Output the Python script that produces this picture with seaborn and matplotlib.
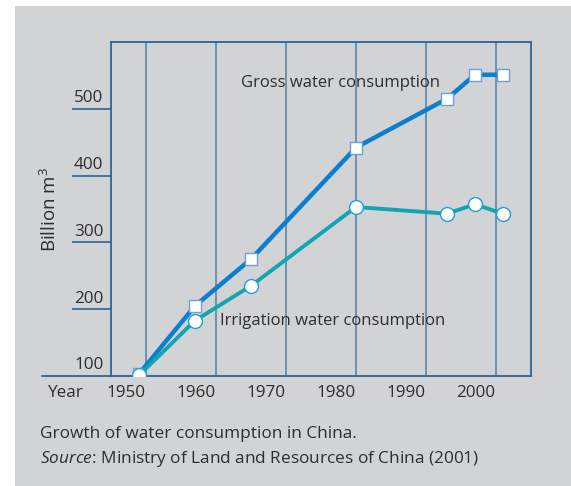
import matplotlib
matplotlib.use("Agg")
import matplotlib.pyplot as plt
import matplotlib.transforms as mtransforms
from matplotlib.patches import Rectangle
import seaborn as sns
import pandas as pd

# data
years = [1949, 1957, 1965, 1980, 1993, 1997, 2001]
gross = [103, 205, 275, 442, 515, 551, 551]
irrigation = [101, 183, 235, 353, 343, 357, 343]
y_ticks = [100, 200, 300, 400, 500]
x_ticks = [1950, 1960, 1970, 1980, 1990, 2000]

df = pd.DataFrame({"Year": years, "Gross": gross, "Irrigation": irrigation})

sns.set_theme(style="white")
plt.rcParams["font.family"] = ["Open Sans", "DejaVu Sans"]
plt.rcParams["mathtext.fontset"] = "custom"
plt.rcParams["mathtext.rm"] = "Open Sans"
plt.rcParams["mathtext.it"] = "Open Sans:italic"

bg = "#d2d3d5"
axcol = "#2b6496"
gridcol = "#5a85ad"
txt = "#2e2e2e"

fig = plt.figure(figsize=(5.71, 4.86), dpi=100)
fig.patch.set_facecolor("white")
fig.patches.append(Rectangle((15 / 571, 0), 1, 480 / 486, transform=fig.transFigure,
                             facecolor=bg, edgecolor="none", zorder=-10))

ax = fig.add_axes([111 / 571, 1 - 376 / 486, 420 / 571, 334 / 486])
ax.set_facecolor(bg)

for yr in x_ticks:
    ax.axvline(yr, color=gridcol, lw=1.2, zorder=1)

sns.lineplot(data=df, x="Year", y="Gross", ax=ax, color="#0a7fcf", lw=3.2,
             marker="s", markersize=9, markerfacecolor="white",
             markeredgecolor="#6e9fd6", markeredgewidth=1.0, zorder=3)
sns.lineplot(data=df, x="Year", y="Irrigation", ax=ax, color="#12a5b1", lw=2.8,
             marker="o", markersize=10, markerfacecolor="white",
             markeredgecolor="#1c9fd9", markeredgewidth=1.0, zorder=4)

ax.set_xlim(1945, 2005)
ax.set_ylim(100, 600)
ax.set_xlabel("")
ax.set_ylabel("")

for s in ax.spines.values():
    s.set_color(axcol)
    s.set_linewidth(1.3)

ax.set_xticks(x_ticks)
ax.set_xticklabels([])
ax.tick_params(axis="x", length=0)
ax.set_yticks(y_ticks[1:])
ax.set_yticklabels([])
ax.tick_params(axis="y", length=28, width=1.2, color=axcol, direction="out", left=True)

# bottom axis line runs out past the left edge
ax.axhline(100, xmin=-0.164, xmax=0, color=axcol, lw=1.3, clip_on=False)

# tick labels
ytrans = mtransforms.blended_transform_factory(ax.transAxes, ax.transData)
for v in y_ticks:
    ax.text(-0.018, v + 4, str(v), transform=ytrans, ha="right", va="bottom",
            fontsize=12.3, color=txt)
xtrans = mtransforms.blended_transform_factory(ax.transData, ax.transAxes)
for yr in x_ticks:
    ax.text(yr - 0.1, -0.052, str(yr), transform=xtrans, ha="right", va="center",
            fontsize=12.3, color=txt)
ax.text(-0.151, -0.052, "Year", transform=ax.transAxes, ha="left", va="center",
        fontsize=12.3, color=txt)

fig.text(50 / 571, 1 - 210 / 486, r"Billion m$^3$", rotation=90, ha="center",
         va="center", fontsize=13.5, color=txt)

ax.text(1963.5, 539, "Gross water consumption", ha="left", va="center",
        fontsize=12, color=txt, zorder=5)
ax.text(1960.5, 182, "Irrigation water consumption", ha="left", va="center",
        fontsize=12, color=txt, zorder=5)

fig.text(40 / 571, 1 - 434 / 486, "Growth of water consumption in China.",
         ha="left", va="center", fontsize=12.4, color=txt)
fig.text(40 / 571, 1 - 459 / 486,
         r"$\it{Source}$: Ministry of Land and Resources of China (2001)",
         ha="left", va="center", fontsize=12.4, color=txt)

fig.savefig("out.png", dpi=100)
